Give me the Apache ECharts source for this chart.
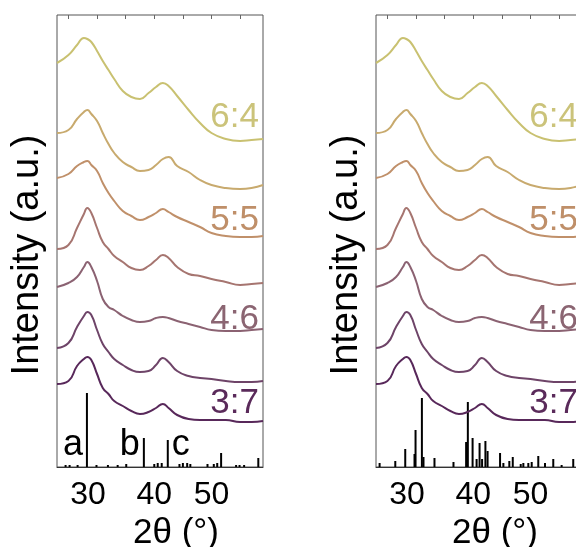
<!DOCTYPE html>
<html>
<head>
<meta charset="utf-8">
<script src="https://cdn.jsdelivr.net/npm/echarts@6/dist/echarts.min.js"></script>
<style>
html,body{margin:0;padding:0;background:#fff;}
#chart{width:576px;height:547px;}
</style>
</head>
<body>
<div id="chart"></div>
<script>
// 2theta sampling positions (degrees)
const theta = [23, 25, 26.5, 27.7, 28.3, 29, 30, 31, 32, 33, 34.5, 36, 37.5, 39, 40.3, 41.5, 42.5, 44, 46, 48, 50, 52.5, 55, 57, 59];
// stacked intensities (a.u.), top to bottom
const ratio64 = [404, 412, 422, 429, 428, 425, 416, 406, 397, 388, 376, 370, 368, 374, 380, 384, 381, 371, 357, 344, 334, 328, 326, 327, 328];
const mid1    = [334, 337, 348, 355, 357, 353, 346, 334, 323, 314, 305, 300, 296, 297, 302, 308, 310, 301, 295, 287, 282, 279, 278, 279, 282];
const ratio55 = [289, 293, 301, 305, 306, 302, 296, 284, 274, 266, 256, 251, 247, 250, 254, 258, 255, 250, 245, 240, 234, 231, 230, 230, 231];
const mid2    = [218, 222, 239, 253, 259, 254, 239, 225, 218, 211, 205, 199, 197, 201, 207, 212, 209, 200, 193, 191, 188, 185, 182, 183, 184];
const ratio46 = [180, 184, 190, 200, 205, 200, 186, 168, 160, 157, 151, 147, 145, 146, 149, 150, 149, 146, 143, 140, 137, 136, 136, 137, 138];
const mid3    = [119, 124, 140, 151, 155, 152, 137, 123, 115, 108, 102, 97, 95, 96, 102, 109, 105, 96, 91, 89, 88, 86, 85, 85, 86];
const ratio37 = [83, 86, 101, 108, 110, 107, 93, 79, 73, 66, 61, 56, 53, 55, 59, 63, 59, 52, 48, 47, 47, 47, 45, 45, 46];

const curves = [ratio64, mid1, ratio55, mid2, ratio46, mid3, ratio37];
const curveLabels = ['6:4', '', '5:5', '', '4:6', '', '3:7'];

// reference pattern, left panel (2theta, relative intensity)
const refLeftTheta  = [24.5, 25.2, 26.6, 28.23, 29.9, 31.9, 33.6, 35.1, 38.18, 40.0, 40.6, 41.3, 42.36, 44.4, 45.0, 45.75, 46.3, 49.3, 50.4, 51.0, 51.68, 54.3, 54.9, 55.7, 58.18];
const refLeftHeight = [2, 2, 2, 74, 2, 2, 2, 3, 29, 3, 4, 4, 27, 3, 4, 4, 3, 3, 3, 4, 14, 2, 2, 2, 9];
const refLeftNames  = ['a', 'b', 'c'];
const refLeftNamedTheta = [28.23, 38.18, 42.36];

// reference pattern, right panel
const refRightTheta  = [23.63, 26.37, 28.11, 29.73, 29.91, 31.02, 31.3, 33.22, 36.54, 38.75, 39.05, 39.88, 40.58, 41.1, 41.54, 42.12, 42.5, 44.68, 45.26, 46.3, 46.9, 48.29, 48.75, 49.62, 50.21, 51.36, 52.53, 53.98, 55.44, 57.47];
const refRightHeight = [4, 6, 18, 13, 37, 69, 10, 9, 5, 25, 65, 29, 8, 24, 8, 26, 16, 14, 4, 6, 10, 3, 4, 4, 5, 11, 4, 8, 2, 8];

const xTickLabels = [30, 40, 50];
const xMinorTicks = [25, 30, 35, 40, 45, 50, 55];

const lineColors  = ['#c9c171', '#c8aa6e', '#c0906a', '#a67570', '#8b6272', '#6e4468', '#58285a'];
const labelColors = ['#cbc37a', '', '#bf8f69', '', '#8b6572', '', '#5a2a5a'];
const labelOffsets = [22, 0, 16, 0, 10, 0, 18];

const FONT = 'Liberation Sans, Arial, sans-serif';

const chart = echarts.init(document.getElementById('chart'), null, {renderer: 'canvas'});

const grids = [
  {left: 57, top: 15, width: 206, height: 452},
  {left: 376, top: 15, width: 206, height: 452}
];

const xAxes = [], yAxes = [], series = [];
grids.forEach((g, gi) => {
  xAxes.push({
    gridIndex: gi, type: 'value', min: 23, max: 59, position: 'bottom',
    axisLine: {show: true, onZero: false, lineStyle: {color: '#333', width: 1}},
    axisTick: {show: false},
    splitLine: {show: false},
    axisLabel: {
      customValues: xTickLabels, margin: 12, color: '#000', fontSize: 32, fontFamily: FONT,
      formatter: v => v === 30 ? '{s|30}' : String(v),
      rich: {s: {fontSize: 32, fontFamily: FONT, color: '#000', padding: [0, 18, 0, 0]}}
    },
    name: '2θ (°)', nameLocation: 'middle', nameGap: 44,
    nameTextStyle: {fontSize: 35, color: '#000', fontFamily: FONT, padding: [0, 0, 0, 32]}
  });
  xAxes.push({
    gridIndex: gi, type: 'value', min: 23, max: 59, position: 'top',
    axisLine: {show: false, onZero: false},
    axisTick: {show: true, inside: true, length: 4, customValues: xMinorTicks, lineStyle: {color: '#666', width: 1}},
    axisLabel: {show: false},
    splitLine: {show: false}
  });
  yAxes.push({
    gridIndex: gi, type: 'value', min: 0, max: 452,
    axisLine: {show: false}, axisTick: {show: false}, axisLabel: {show: false}, splitLine: {show: false},
    name: 'Intensity (a.u.)', nameLocation: 'middle', nameGap: 10, nameRotate: 90,
    nameTextStyle: {fontSize: 38, color: '#000', fontFamily: FONT, padding: [0, 28, 0, 0]}
  });
  curves.forEach((c, ci) => {
    series.push({
      type: 'line', xAxisIndex: gi * 2, yAxisIndex: gi,
      data: theta.map((t, i) => [t, c[i]]),
      smooth: 0.5, symbol: 'none', silent: true,
      lineStyle: {color: lineColors[ci], width: 2},
      z: 3
    });
  });
  const rt = gi === 0 ? refLeftTheta : refRightTheta;
  const rh = gi === 0 ? refLeftHeight : refRightHeight;
  series.push({
    type: 'bar', xAxisIndex: gi * 2, yAxisIndex: gi,
    data: rt.map((t, i) => [t, rh[i]]),
    barWidth: 2, itemStyle: {color: '#000'}, silent: true, z: 2
  });
});

chart.setOption({
  animation: false,
  grid: grids.map(g => Object.assign({show: true, borderColor: '#555', borderWidth: 1, backgroundColor: 'transparent', outerBoundsMode: 'none', containLabel: false}, g)),
  xAxis: xAxes, yAxis: yAxes, series: series
});

// text annotations anchored to data coordinates
const graphics = [];
[0, 1].forEach(gi => {
  curves.forEach((c, ci) => {
    if (!curveLabels[ci]) return;
    const p = chart.convertToPixel({gridIndex: gi}, [59, c[c.length - 1]]);
    graphics.push({
      type: 'text', x: p[0] - 4, y: p[1] - labelOffsets[ci], z: 10,
      style: {text: curveLabels[ci], fill: labelColors[ci], fontSize: 35, fontFamily: FONT, align: 'right', verticalAlign: 'middle'}
    });
  });
});
refLeftNames.forEach((n, i) => {
  const p = chart.convertToPixel({gridIndex: 0}, [refLeftNamedTheta[i], 0]);
  const left = i === 2;
  graphics.push({
    type: 'text', x: left ? p[0] + 4 : p[0] - 4, y: p[1] - 9 - 0.35 * 36, z: 10,
    style: {text: n, fill: '#000', fontSize: 36, fontFamily: FONT, align: left ? 'left' : 'right', verticalAlign: 'middle'}
  });
});
chart.setOption({graphic: graphics});
</script>
</body>
</html>
